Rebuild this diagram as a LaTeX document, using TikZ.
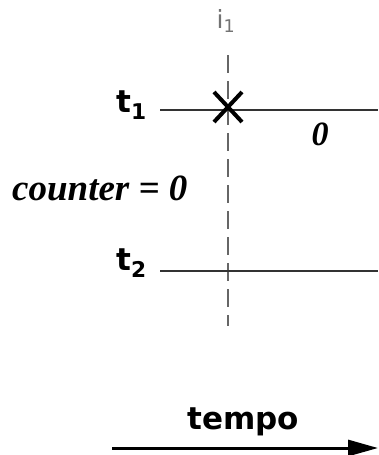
\documentclass[tikz,border=0pt]{standalone}
\usepackage{fontspec}
\usetikzlibrary{arrows.meta}
\newfontfamily\verd{DejaVu Sans}
\newfontfamily\tms{Liberation Serif}

\tikzset{
  timeline/.style={draw=black!80, line width=1.8pt},
  marker/.style={draw=black!60, line width=1.4pt, dash pattern=on 18pt off 8pt},
  tlabel/.style={font=\verd\bfseries\fontsize{31}{36}\selectfont, inner sep=0pt},
  vallabel/.style={font=\tms\bfseries\itshape\fontsize{34}{40}\selectfont, inner sep=0pt},
}

\begin{document}
\begin{tikzpicture}[x=1pt, y=-1pt]
    \useasboundingbox (0,0) rectangle (378,455);

    % --- Coordonnées ---
    \coordinate (itop) at (228,55);
    \coordinate (ibot) at (228,326);
    \coordinate (t1a) at (160,110);
    \coordinate (t1b) at (378,110);
    \coordinate (t2a) at (160,271);
    \coordinate (t2b) at (378,271);
    \coordinate (xc) at (228,107);
    \coordinate (ta) at (112,448);
    \coordinate (tb) at (378,448);

    % --- Instant i1 ---
    \node[font=\verd\fontsize{25}{30}\selectfont, text=black!55, inner sep=0pt, anchor=base] (ilbl) at (226,28) {i\textsubscript{1}};
    \draw[marker] (itop) -- (ibot);

    % --- Lignes t1 et t2 ---
    \draw[timeline] (t1a) -- (t1b);
    \draw[timeline] (t2a) -- (t2b);
    \node[tlabel, anchor=base east] (t1lbl) at (147,112) {t\textsubscript{1}};
    \node[tlabel, anchor=base east] (t2lbl) at (147,270) {t\textsubscript{2}};

    % Croix sur t1
    \draw[line width=4pt] ([shift={(-14,-15)}]xc) -- ([shift={(14,15)}]xc)
                          ([shift={(-14,15)}]xc) -- ([shift={(14,-15)}]xc);

    % --- Valeurs ---
    \node[vallabel, anchor=base] (zlbl) at (320,145) {0};
    \node[vallabel, font=\tms\bfseries\itshape\fontsize{37}{42}\selectfont, anchor=base west] (clbl) at (12,200) {counter = 0};

    % --- Axe du temps ---
    \node[tlabel, anchor=base] (tempolbl) at (243,429) {tempo};
    \draw[line width=3pt, -{Triangle[length=30pt, width=16pt]}] (ta) -- (tb);
\end{tikzpicture}
\end{document}
